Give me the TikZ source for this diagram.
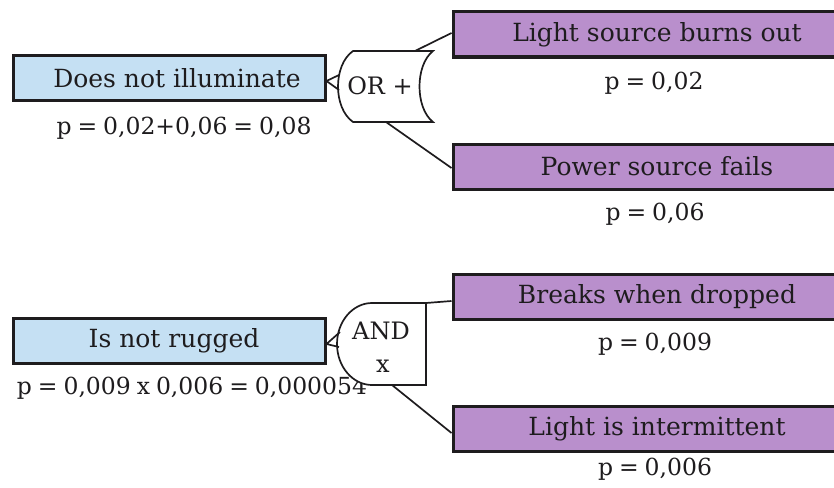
\documentclass[tikz,border=0pt]{standalone}
\usepackage{fontspec}
\setmainfont{DejaVu Serif}
\newfontfamily\probfont[WordSpace=0.8]{DejaVu Serif}
\definecolor{effectblue}{RGB}{197,224,243}
\definecolor{causepurple}{RGB}{185,143,204}
\definecolor{ink}{RGB}{30,28,30}
\tikzset{
  box/.style={draw=ink, line width=3pt, minimum height=45pt, inner sep=0pt,
    font=\fontsize{25}{30}\selectfont, text=ink},
  effect/.style={box, fill=effectblue, minimum width=312pt},
  cause/.style={box, fill=causepurple, minimum width=408pt},
  prob/.style={anchor=base, inner sep=0pt, font=\probfont\fontsize{23.5}{28}\selectfont, text=ink},
  gate/.style={draw=ink, line width=1.7pt, fill=white},
  gatetext/.style={inner sep=0pt, font=\fontsize{24}{29}\selectfont, text=ink},
  link/.style={draw=ink, line width=1.7pt},
}
\begin{document}
\begin{tikzpicture}[x=1pt, y=-1pt]
  \useasboundingbox (0,0) rectangle (834,487);
  \clip (0,0) rectangle (834,487);

  % ---- upper tree: OR gate ----
  \node[effect] (dni) at (169,78) {\hspace*{16pt}Does not illuminate};
  \node[prob] (dnip) at (184,134) {p = 0,02+0,06 = 0,08};

  \node[cause] (lsb) at (657,34.5) {Light source burns out};
  \node[prob] (lsbp) at (654,89) {p = 0,02};
  \node[cause] (psf) at (657,166.5) {Power source fails};
  \node[prob] (psfp) at (655,220) {p = 0,06};

  \draw[gate] (353,51) -- (433,51)
    .. controls (415,65) and (415,108) .. (433,122) -- (353,122)
    .. controls (333,108) and (333,65) .. (353,51) -- cycle;
  \node[gatetext] (ortxt) at (380,86) {OR +};
  \coordinate (orw1) at (339,75);
  \coordinate (orw2) at (339,90);
  \coordinate (orout1) at (415,51);
  \coordinate (orout2) at (386,122);

  \draw[link] (orw1) -- ([yshift=-3pt]dni.east) -- (orw2);
  \draw[link] (orout1) -- ([yshift=1.5pt]lsb.west);
  \draw[link] (orout2) -- ([yshift=-1.5pt]psf.west);

  % ---- lower tree: AND gate ----
  \node[effect] (inr) at (169,340.5) {\hspace*{10pt}Is not rugged};
  \node[prob] (inrp) at (192,394) {p = 0,009 x 0,006 = 0,000054};

  \node[cause] (bwd) at (657,297) {Breaks when dropped};
  \node[prob] (bwdp) at (655,350) {p = 0,009};
  \node[cause] (lii) at (657,429) {Light is intermittent};
  \node[prob] (liip) at (655,475) {p = 0,006};

  \draw[gate] (372,303) -- (426,303) -- (426,385) -- (372,385)
    .. controls (352.7,385) and (337,366.6) .. (337,344)
    .. controls (337,321.4) and (352.7,303) .. (372,303) -- cycle;
  \node[gatetext] (andtxt) at (381,331) {AND};
  \node[gatetext] (andx) at (383,366) {x};
  \coordinate (andw1) at (340,332);
  \coordinate (andw2) at (339,347);
  \coordinate (andout1) at (426,303);
  \coordinate (andout2) at (392,385);

  \draw[link] (andw1) -- ([yshift=-3.5pt]inr.east) -- (andw2);
  \draw[link] (andout1) -- ([yshift=-4pt]bwd.west);
  \draw[link] (andout2) -- ([yshift=-4pt]lii.west);
\end{tikzpicture}
\end{document}
